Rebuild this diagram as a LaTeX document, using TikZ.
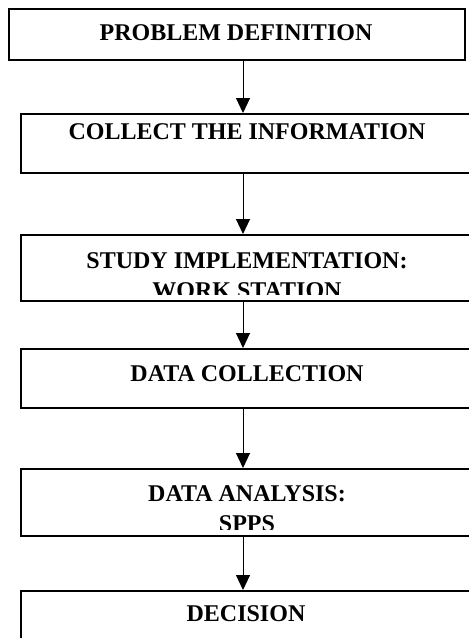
\documentclass[tikz,border=0pt]{standalone}
\usepackage{fontspec}
\setmainfont{Liberation Serif}
\usetikzlibrary{arrows.meta}

\begin{document}
\begin{tikzpicture}[x=1pt,y=-1pt,
	box/.style={draw,line width=1.8pt,rectangle,anchor=north west,inner sep=0pt},
	lbl/.style={anchor=north,inner sep=0pt,align=center,font=\bfseries\fontsize{24}{30}\selectfont},
	arr/.style={line width=1pt,-{Triangle[length=15pt,width=14pt]}}]

	\clip (0,0) rectangle (469,638);

	\node[box,minimum width=456pt,minimum height=51pt] (b1) at (8,8) {};
	\node[box,minimum width=454pt,minimum height=59pt] (b2) at (20,113) {};
	\node[box,minimum width=454pt,minimum height=66pt] (b3) at (20,234) {};
	\node[box,minimum width=454pt,minimum height=59pt] (b4) at (20,348) {};
	\node[box,minimum width=454pt,minimum height=67pt] (b5) at (20,468) {};
	\node[box,minimum width=454pt,minimum height=70pt] (b6) at (20,590) {};

	\node[lbl] (t1) at (236,24) {PROBLEM DEFINITION};
	\node[lbl] (t2) at (247,123) {COLLECT THE INFORMATION};
	\begin{scope}
		\clip (b3.north west) rectangle ([yshift=7pt]b3.south east);
		\node[lbl] (t3) at (247,252) {STUDY IMPLEMENTATION:\\WORK STATION};
	\end{scope}
	\node[lbl] (t4) at (247,365) {DATA COLLECTION};
	\begin{scope}
		\clip (b5.north west) rectangle ([yshift=7pt]b5.south east);
		\node[lbl] (t5) at (247,485) {DATA ANALYSIS:\\SPPS};
	\end{scope}
	\node[lbl] (t6) at (246,605) {DECISION};

	\coordinate (ax) at (243,0);
	\draw[arr] (b1.south -| ax) -- (b2.north -| ax);
	\draw[arr] (b2.south -| ax) -- (b3.north -| ax);
	\draw[arr] (b3.south -| ax) -- (b4.north -| ax);
	\draw[arr] (b4.south -| ax) -- (b5.north -| ax);
	\draw[arr] (b5.south -| ax) -- (b6.north -| ax);

\end{tikzpicture}
\end{document}
